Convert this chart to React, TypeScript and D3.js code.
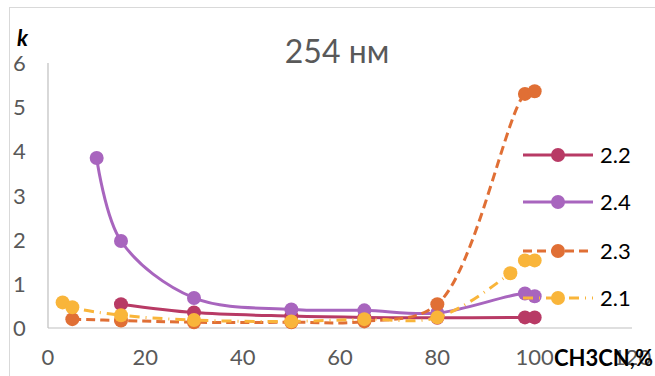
import React from "react";
import * as d3 from "d3";

const xTicks = [0, 20, 40, 60, 80, 100, 120];
const yTicks = [0, 1, 2, 3, 4, 5, 6];
const seriesNames = ["2.2", "2.4", "2.3", "2.1"];
const s22x = [15, 30, 50, 65, 80, 98, 100];
const s22y = [0.54, 0.35, 0.27, 0.24, 0.23, 0.24, 0.24];
const s24x = [10, 15, 30, 50, 65, 80, 98, 100];
const s24y = [3.85, 1.97, 0.68, 0.42, 0.4, 0.34, 0.78, 0.72];
const s23x = [5, 15, 30, 50, 65, 80, 98, 100];
const s23y = [0.2, 0.17, 0.13, 0.13, 0.15, 0.54, 5.3, 5.36];
const s21x = [3, 5, 15, 30, 50, 65, 80, 95, 98, 100];
const s21y = [0.58, 0.47, 0.29, 0.18, 0.15, 0.2, 0.24, 1.24, 1.53, 1.53];

const colors = ["#B83A65", "#A865BE", "#E06F35", "#F9B53A"];
const dashes = ["none", "none", "9 5", "10 6 1 6"];
const xs = [s22x, s24x, s23x, s21x];
const ys = [s22y, s24y, s23y, s21y];

const FONT = "Lato, 'Open Sans', sans-serif";

export default function App() {
  const x = d3.scaleLinear().domain([0, 120]).range([48, 632]);
  const y = d3.scaleLinear().domain([0, 6]).range([328, 63]);
  const line = d3
    .line<[number, number]>()
    .x((d) => x(d[0]))
    .y((d) => y(d[1]))
    .curve(d3.curveCatmullRom.alpha(0.5));

  const legendY = [155, 202, 251, 298];

  return (
    <svg
      width={655}
      height={376}
      style={{ position: "absolute", left: 0, top: 0, background: "#fff" }}
    >
      <rect x={9.5} y={7.5} width={700} height={400} fill="#fff" stroke="#d9d9d9" />
      <text x={337} y={63} textAnchor="middle" fontFamily={FONT} fontSize={32} fill="#595959">
        254 нм
      </text>
      <text x={17} y={46} fontFamily={FONT} fontSize={22} fontWeight="bold" fontStyle="italic" fill="#000">
        k
      </text>
      <line x1={48} x2={48} y1={63} y2={328} stroke="#bfbfbf" strokeWidth={1.2} />
      <line x1={48} x2={632} y1={328} y2={328} stroke="#bfbfbf" strokeWidth={1.2} />
      {yTicks.map((t) => (
        <text key={t} x={13} y={y(t) + 8} fontFamily={FONT} fontSize={22} fill="#595959">
          {t}
        </text>
      ))}
      {xTicks.map((t) => (
        <text key={t} x={x(t)} y={365} textAnchor="middle" fontFamily={FONT} fontSize={22} fill="#595959">
          {t}
        </text>
      ))}
      {seriesNames.map((n, i) => {
        const pts: [number, number][] = xs[i].map((v, j) => [v, ys[i][j]]);
        return (
          <g key={n}>
            <path
              d={line(pts) || ""}
              fill="none"
              stroke={colors[i]}
              strokeWidth={3}
              strokeDasharray={dashes[i]}
            />
            {pts.map((p, j) => (
              <circle key={j} cx={x(p[0])} cy={y(p[1])} r={7} fill={colors[i]} />
            ))}
          </g>
        );
      })}
      <text x={554} y={366} fontFamily={FONT} fontSize={22} fontWeight="bold" fill="#000">
        CH3CN,%
      </text>
      {seriesNames.map((n, i) => (
        <g key={n}>
          <line
            x1={523}
            x2={593}
            y1={legendY[i]}
            y2={legendY[i]}
            stroke={colors[i]}
            strokeWidth={3}
            strokeDasharray={dashes[i]}
          />
          <circle cx={558} cy={legendY[i]} r={7} fill={colors[i]} />
          <text x={600} y={legendY[i] + 8} fontFamily={FONT} fontSize={22} fill="#000">
            {n}
          </text>
        </g>
      ))}
    </svg>
  );
}
